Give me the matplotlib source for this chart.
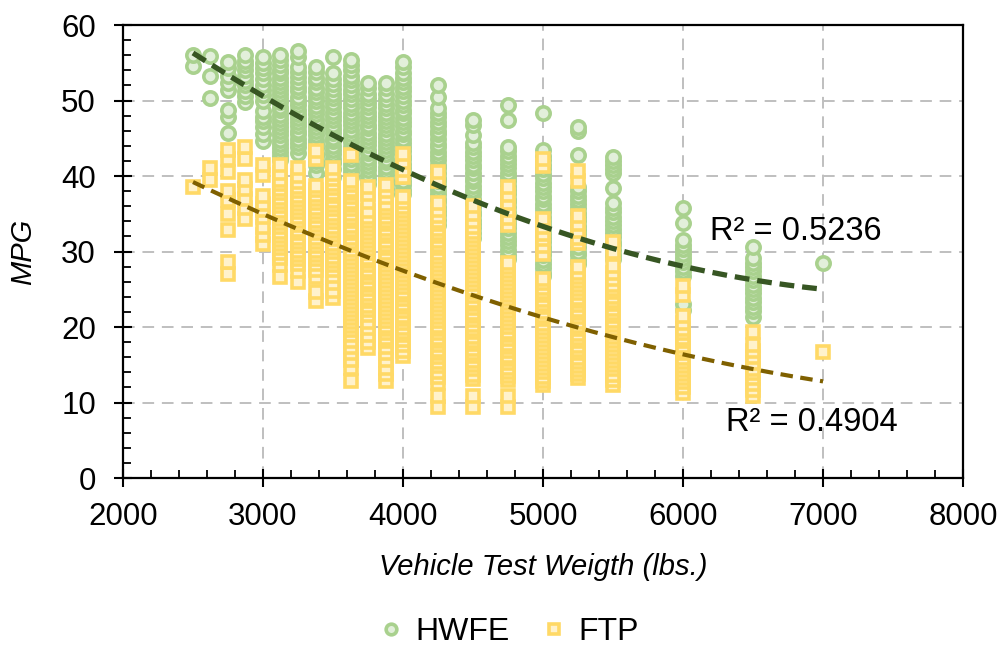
from matplotlib import pyplot as plt
from matplotlib.ticker import MultipleLocator
import numpy as np

# Vehicle test weight classes (lbs.)
weights = [2500, 2625, 2750, 2875, 3000, 3125, 3250, 3375, 3500, 3625, 3750,
           3875, 4000, 4250, 4500, 4750, 5000, 5250, 5500, 6000, 6500, 7000]

# HWFE MPG values per weight class (same order as weights)
hwfe_mpg = [
    [56.0, 54.6],
    [55.9, 53.2, 50.3],
    [55.1, 54.3, 53.2, 52.3, 51.4, 48.7, 47.8, 45.7],
    [56.0, 55.3, 54.7, 54.0, 53.3, 52.6, 52.0, 51.3, 50.6, 49.8],
    [55.8, 55.0, 54.3, 53.6, 52.9, 52.1, 51.4, 50.7, 49.9, 48.6, 47.8, 47.3,
     46.5, 45.6, 44.6],
    [56.0, 55.4, 54.7, 54.1, 53.6, 53.0, 52.5, 51.9, 51.4, 50.8, 50.3, 49.8,
     49.2, 48.7, 48.1, 47.6, 47.0, 46.5, 45.9, 45.4, 44.8, 44.3, 43.7, 43.2,
     42.6, 42.1],
    [56.5, 55.8, 54.5, 53.8, 53.1, 52.4, 51.8, 51.2, 50.5, 49.9, 49.4, 48.8,
     48.2, 47.7, 47.1, 46.6, 46.0, 45.5, 44.9, 44.4, 43.8, 43.0],
    [54.5, 53.8, 53.0, 52.4, 51.7, 51.1, 50.5, 49.9, 49.3, 48.8, 48.2, 47.6,
     47.0, 46.5, 45.9, 45.4, 44.8, 44.3, 43.7, 43.1, 42.6, 42.0, 41.4, 40.4],
    [55.8, 53.6, 52.9, 52.2, 51.5, 50.9, 50.3, 49.7, 49.1, 48.5, 47.9, 47.4,
     46.8, 46.2, 45.7, 45.1, 44.6, 44.0, 43.5, 42.9, 42.3, 41.7, 40.9, 39.9],
    [55.4, 54.7, 54.0, 53.3, 52.7, 52.0, 51.4, 50.8, 50.2, 49.6, 49.0, 48.4,
     47.8, 47.3, 46.7, 46.1, 45.6, 45.0, 44.5, 43.9, 43.3, 42.8, 42.2, 41.6,
     41.0, 40.5, 39.9],
    [52.3, 51.6, 50.9, 50.3, 49.7, 49.1, 48.5, 47.9, 47.4, 46.8, 46.3, 45.7,
     45.2, 44.6, 44.1, 43.5, 43.0, 42.4, 41.9, 41.3, 40.8, 40.2, 39.6, 39.0],
    [52.3, 51.6, 50.9, 50.2, 49.6, 49.0, 48.4, 47.8, 47.3, 46.7, 46.2, 45.6,
     45.1, 44.5, 44.0, 43.4, 42.9, 42.3, 41.8, 41.2, 40.7, 40.1, 39.5, 38.9,
     38.3, 37.6],
    [55.1, 54.4, 53.7, 53.0, 52.4, 51.8, 51.2, 50.6, 50.0, 49.4, 48.8, 48.3,
     47.7, 47.1, 46.6, 46.0, 45.5, 44.9, 44.4, 43.8, 43.3, 42.7, 42.2, 41.6,
     41.1, 40.5, 40.0, 39.4, 38.8, 38.2, 37.6],
    [52.0, 50.5, 49.0, 48.4, 47.8, 47.2, 46.6, 46.0, 45.5, 44.9, 44.3, 43.8,
     43.2, 42.6, 42.1, 41.5, 41.0, 40.4, 39.8, 39.3, 38.7, 38.2, 37.6, 37.0,
     36.5, 35.9, 35.4, 34.8, 34.2, 33.5],
    [47.4, 46.8, 45.4, 44.4, 43.8, 43.2, 42.7, 42.1, 41.5, 41.0, 40.4, 39.8,
     39.3, 38.7, 38.1, 37.6, 37.0, 36.4, 35.9, 35.3, 34.8, 34.2, 33.6, 33.1,
     32.5, 31.8],
    [49.4, 47.4, 43.9, 43.3, 42.7, 42.1, 41.6, 41.0, 40.4, 39.9, 39.3, 38.7,
     38.2, 37.6, 37.0, 36.5, 35.9, 35.3, 34.8, 34.2, 33.6, 33.1, 32.5, 31.9,
     31.4, 30.8, 30.2, 29.6, 29.0],
    [48.3, 43.4, 42.7, 42.1, 41.5, 40.9, 40.3, 39.7, 39.1, 38.6, 38.0, 37.4,
     36.9, 36.3, 35.7, 35.2, 34.6, 34.0, 33.5, 32.9, 32.3, 31.8, 31.2, 30.6,
     30.1, 29.5, 28.9, 28.4, 27.8, 27.2, 26.7],
    [46.5, 45.9, 42.8, 38.6, 38.0, 37.4, 36.8, 36.3, 35.7, 35.1, 34.6, 34.0,
     33.4, 32.9, 32.3, 31.7, 31.2, 30.6, 30.0, 29.5, 28.9, 28.4],
    [42.5, 42.0, 41.4, 40.9, 40.4, 38.4, 36.4, 35.8, 35.2, 34.6, 34.1, 33.5,
     33.0, 32.4, 31.9, 31.3, 30.8, 30.2, 29.6, 29.0],
    [35.8, 33.8, 31.5, 30.9, 30.3, 29.7, 29.1, 28.6, 28.0, 27.4, 26.8, 23.0,
     22.3],
    [30.6, 29.1, 28.5, 28.0, 27.4, 26.8, 26.2, 25.6, 25.0, 24.5, 23.9, 23.3,
     22.7, 22.1, 21.3],
    [28.5],
]

# FTP MPG values per weight class (same order as weights)
ftp_mpg = [
    [38.6],
    [41.0, 39.5],
    [43.5, 42.3, 40.5, 38.0, 36.8, 35.0, 32.8, 28.6, 27.0],
    [43.8, 42.3, 39.5, 38.3, 37.0, 35.8, 34.3],
    [41.4, 40.2, 37.4, 36.3, 35.5, 34.6, 33.3, 32.2, 31.0],
    [41.5, 40.4, 39.5, 38.9, 38.3, 37.7, 37.1, 36.6, 36.0, 35.4, 34.9, 34.3,
     33.8, 33.2, 32.6, 32.1, 31.5, 31.0, 30.4, 29.8, 29.2, 28.2, 26.6],
    [41.0, 40.0, 39.2, 38.6, 38.0, 37.4, 36.8, 36.3, 35.7, 35.2, 34.6, 34.0,
     33.5, 32.9, 32.4, 31.8, 31.2, 30.7, 30.1, 29.6, 29.0, 28.3, 27.4, 26.0],
    [43.3, 42.3, 38.7, 38.1, 37.5, 36.9, 36.4, 35.8, 35.2, 34.7, 34.1, 33.5,
     33.0, 32.4, 31.8, 31.3, 30.7, 30.1, 29.6, 29.0, 28.4, 27.6, 26.6, 24.7,
     23.4],
    [41.1, 40.3, 39.6, 39.0, 38.4, 37.8, 37.3, 36.7, 36.1, 35.6, 35.0, 34.4,
     33.9, 33.3, 32.7, 32.2, 31.6, 31.0, 30.5, 29.9, 29.3, 28.8, 28.2, 27.6,
     26.8, 25.8, 24.8, 23.9],
    [42.8, 39.3, 38.8, 38.2, 37.7, 37.2, 36.6, 36.1, 35.6, 35.0, 34.5, 34.0,
     33.4, 32.9, 32.4, 31.8, 31.3, 30.8, 30.2, 29.7, 29.2, 28.6, 28.1, 27.6,
     27.0, 26.5, 26.0, 25.4, 24.9, 24.4, 23.8, 23.3, 22.8, 22.2, 21.7, 21.2,
     20.6, 20.1, 19.6, 19.0, 18.2, 17.4, 16.5, 15.6, 14.6, 12.8],
    [38.6, 37.6, 36.5, 35.4, 34.6, 34.0, 33.5, 33.0, 32.4, 31.9, 31.4, 30.8,
     30.3, 29.8, 29.2, 28.7, 28.2, 27.6, 27.1, 26.6, 26.0, 25.5, 25.0, 24.4,
     23.9, 23.4, 22.8, 22.3, 21.6, 20.7, 19.9, 19.0, 18.0, 17.2],
    [38.8, 38.0, 37.2, 36.3, 35.7, 35.2, 34.6, 34.1, 33.6, 33.0, 32.5, 32.0,
     31.4, 30.9, 30.4, 29.8, 29.3, 28.8, 28.2, 27.7, 27.2, 26.6, 26.1, 25.6,
     25.0, 24.5, 24.0, 23.4, 22.9, 22.4, 21.8, 21.3, 20.8, 20.2, 19.7, 19.2,
     18.6, 18.1, 17.3, 16.5, 15.6, 14.6, 13.8, 12.8],
    [42.9, 41.9, 40.8, 39.9, 37.2, 36.5, 35.9, 35.4, 34.9, 34.3, 33.8, 33.3,
     32.7, 32.2, 31.7, 31.1, 30.6, 30.1, 29.5, 29.0, 28.5, 27.9, 27.4, 26.9,
     26.3, 25.8, 25.3, 24.7, 24.2, 23.7, 23.1, 22.6, 22.1, 21.5, 21.0, 20.5,
     19.9, 19.4, 18.9, 18.3, 17.6, 16.8, 16.2],
    [40.5, 39.4, 36.4, 35.5, 34.7, 34.1, 33.6, 33.0, 32.5, 32.0, 31.4, 30.9,
     30.4, 29.8, 29.3, 28.8, 28.2, 27.7, 27.2, 26.6, 26.1, 25.6, 25.0, 24.5,
     24.0, 23.4, 22.9, 22.4, 21.8, 21.3, 20.8, 20.2, 19.7, 19.2, 18.6, 18.1,
     17.6, 17.0, 16.5, 16.0, 15.4, 14.8, 14.1, 13.4, 12.6, 10.8, 9.4],
    [36.0, 35.0, 34.1, 33.2, 32.6, 32.1, 31.5, 31.0, 30.5, 29.9, 29.4, 28.9,
     28.3, 27.8, 27.3, 26.7, 26.2, 25.7, 25.1, 24.6, 24.1, 23.5, 23.0, 22.5,
     21.9, 21.4, 20.9, 20.3, 19.8, 19.3, 18.7, 18.2, 17.7, 17.1, 16.6, 16.1,
     15.5, 15.0, 14.4, 13.7, 13.1, 10.8, 9.4],
    [38.5, 37.5, 36.4, 35.5, 34.5, 33.5, 28.5, 28.0, 27.4, 26.9, 26.4, 25.8,
     25.3, 24.8, 24.2, 23.7, 23.2, 22.6, 22.1, 21.6, 21.0, 20.5, 20.0, 19.4,
     18.9, 18.4, 17.8, 17.3, 16.8, 16.2, 15.7, 15.2, 14.6, 14.1, 13.5, 13.0,
     10.8, 9.4],
    [42.3, 41.3, 34.3, 33.3, 32.3, 31.6, 30.7, 29.7, 26.3, 25.8, 25.2, 24.7,
     24.2, 23.6, 23.1, 22.6, 22.0, 21.5, 21.0, 20.4, 19.9, 19.4, 18.8, 18.3,
     17.8, 17.2, 16.7, 16.2, 15.6, 15.1, 14.6, 14.0, 13.4, 12.8, 12.3],
    [40.6, 39.4, 34.7, 33.7, 32.7, 31.8, 31.1, 28.0, 27.2, 26.6, 26.1, 25.5,
     25.0, 24.5, 23.9, 23.4, 22.9, 22.3, 21.8, 21.3, 20.7, 20.2, 19.7, 19.1,
     18.6, 18.1, 17.5, 17.0, 16.5, 15.9, 15.4, 14.9, 14.3, 13.8, 13.2],
    [31.2, 30.0, 28.1, 27.2, 26.4, 25.6, 25.1, 24.6, 24.0, 23.5, 23.0, 22.4,
     21.9, 21.4, 20.8, 20.3, 19.8, 19.2, 18.7, 18.2, 17.6, 17.1, 16.6, 16.0,
     15.5, 15.0, 14.4, 13.7, 13.0, 12.3],
    [25.4, 24.2, 21.4, 20.5, 19.8, 19.2, 18.6, 18.1, 17.5, 17.0, 16.5, 15.9,
     15.4, 14.9, 14.3, 13.8, 13.3, 12.7, 12.1, 11.3],
    [19.4, 17.6, 16.8, 16.0, 15.2, 14.5, 13.9, 13.2, 12.4, 11.6, 10.8],
    [16.7],
]

# Polynomial (order 2) trendlines, x in thousands of lbs.
hwfe_trend = [1.1178, -17.574, 93.249]
ftp_trend = [0.6533, -12.073, 65.30]
hwfe_r2 = "R² = 0.5236"
ftp_r2 = "R² = 0.4904"

plt.rcParams['font.family'] = ['Liberation Sans', 'DejaVu Sans']


def flatten(groups):
    xs, ys = [], []
    for w, vals in zip(weights, groups):
        for v in sorted(vals):
            xs.append(w)
            ys.append(v)
    return np.array(xs), np.array(ys)


hx, hy = flatten(hwfe_mpg)
fx, fy = flatten(ftp_mpg)

fig = plt.figure(figsize=(10.04, 6.5), dpi=100)
ax = fig.add_axes([0.1225, 0.2646, 0.8367, 0.6969])

ax.plot(hx, hy, 'o', ms=9.6, mfc='#E2EFDA', mec='#A9D18E', mew=2.6,
        ls='none', label='HWFE', zorder=3)
ax.plot(fx, fy, 's', ms=9.2, mfc='#FFF2CC', mec='#FFD966', mew=2.6,
        ls='none', label='FTP', zorder=4)

# Trendlines
xt = np.linspace(2500, 7000, 200)
ax.plot(xt, np.polyval(hwfe_trend, xt / 1000), color='#375623', lw=3.8,
        ls=(0, (2.8, 1.5)), zorder=5)
ax.plot(xt, np.polyval(ftp_trend, xt / 1000), color='#7F6000', lw=3.0,
        ls=(0, (3, 1.8)), zorder=5)

ax.text(6190, 32.7, hwfe_r2, fontsize=23.5, va='center', zorder=6)
ax.text(6310, 7.3, ftp_r2, fontsize=23.5, va='center', zorder=6)

ax.set_xlim(2000, 8000)
ax.set_ylim(0, 60)
ax.xaxis.set_major_locator(MultipleLocator(1000))
ax.xaxis.set_minor_locator(MultipleLocator(200))
ax.yaxis.set_major_locator(MultipleLocator(10))
ax.yaxis.set_minor_locator(MultipleLocator(2))
ax.tick_params(which='major', direction='inout', length=13, width=1.5,
               labelsize=22.5)
ax.tick_params(axis='y', which='major', pad=13)
ax.tick_params(axis='x', which='major', pad=11)
ax.tick_params(which='minor', direction='in', length=6, width=1.3)
ax.tick_params(axis='x', which='both', top=False)
ax.tick_params(axis='y', which='both', right=False)
for s in ax.spines.values():
    s.set_linewidth(1.6)

ax.grid(True, which='major', color='#BFBFBF', ls=(0, (6, 4)), lw=1.4,
        zorder=0)
ax.set_axisbelow(True)

ax.set_xlabel("Vehicle Test Weigth (lbs.)", fontsize=21, style='italic',
              labelpad=15)
ax.set_ylabel("MPG", fontsize=21, style='italic', labelpad=17)

fig.legend(loc='center', bbox_to_anchor=(0.505, 0.028), ncol=2, frameon=False,
           fontsize=23, markerscale=0.8, handletextpad=0.25, columnspacing=0.9,
           handlelength=1.0)

plt.savefig('out.png', dpi=100)
